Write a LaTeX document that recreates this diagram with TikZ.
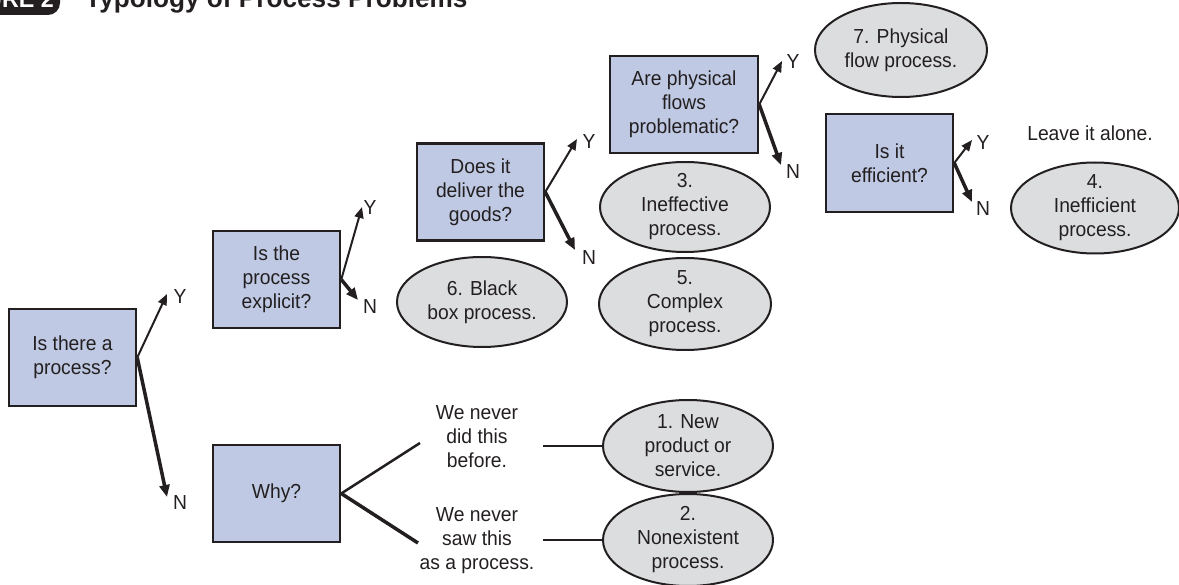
\documentclass[tikz,border=0pt]{standalone}
\usepackage{fontspec}
\setmainfont{Liberation Sans}[FakeStretch=0.95]
\newfontfamily\titlefont{Liberation Sans}[FakeStretch=0.97]
\usetikzlibrary{shapes.geometric,arrows.meta}
\definecolor{ink}{HTML}{231F20}
\definecolor{boxblue}{HTML}{BFC9E3}
\definecolor{ellgray}{HTML}{DCDDDF}
\begin{document}
\begin{tikzpicture}[x=1pt,y=-1pt,
  every node/.style={text=ink, font=\fontsize{20.3pt}{24pt}\selectfont},
  qbox/.style={draw=ink, line width=2.5pt, fill=boxblue, minimum width=127pt,
    minimum height=97pt, align=center, inner sep=0pt},
  ell/.style={ellipse, draw=ink, line width=2pt, fill=ellgray, minimum width=170pt,
    minimum height=90pt, inner sep=0pt},
  elltext/.style={align=center, inner sep=0pt},
  plain/.style={align=center, inner sep=0pt},
  yarrow/.style={draw=ink, line width=2pt, -{Triangle[length=11pt,width=9pt]}},
  narrow/.style={draw=ink, line width=3.5pt, -{Triangle[length=12pt,width=10pt]}},
  yn/.style={inner sep=0pt},
  link/.style={draw=ink, line width=2pt}
]
\useasboundingbox (0,0) rectangle (1179,585);

% title (cut at the top edge)
\fill[ink, rounded corners=12pt] (-40,-40) rectangle (60,15);
\node[anchor=base east, inner sep=0pt, text=white, font=\titlefont\bfseries\fontsize{24pt}{28pt}\selectfont] (figlbl) at (54,8) {FIGURE 2};
\node[anchor=base west, inner sep=0pt, font=\titlefont\bfseries\fontsize{27pt}{32pt}\selectfont] (title) at (85,8) {Typology of Process Problems};

% question boxes
\node[qbox] (b1) at (72.5,357.5) {Is there a\\process?};
\node[qbox] (b2) at (276.5,279.5) {Is the\\process\\explicit?};
\node[qbox] (b3) at (480.5,192) {Does it\\deliver the\\goods?};
\node[qbox, minimum width=148pt] (b4) at (684,104.5) {Are physical\\flows\\problematic?};
\node[qbox, minimum height=98pt] (b5) at (889.5,163) {Is it\\efficient?};
\node[qbox] (bw) at (276.5,493.5) {Why?};

% outcome ellipses
\node[ell, label={[elltext]center:6. Black\\box process.}] (e6) at (482,302) {};
\node[ell, label={[elltext]center:3.\\Ineffective\\process.}] (e3) at (685,207) {};
\node[ell, minimum width=172pt, minimum height=92pt, label={[elltext]center:5.\\Complex\\process.}] (e5) at (685,304) {};
\node[ell, minimum width=172pt, minimum height=94pt, label={[elltext]center:7. Physical\\flow process.}] (e7) at (901,50) {};
\node[ell, minimum width=168pt, minimum height=91pt, label={[elltext]center:4.\\Inefficient\\process.}] (e4) at (1095,208) {};
\node[ell, minimum height=92pt, label={[elltext]center:1. New\\product or\\service.}] (e1) at (688,446) {};
\node[ell, minimum height=92pt, label={[elltext]center:2.\\Nonexistent\\process.}] (e2) at (688,540) {};

% free texts
\node[plain] (t1) at (477,437) {We never\\did this\\before.};
\node[plain] (t2) at (477,541) {We never\\saw this\\as a process.};
\node[plain] (leave) at (1090,133) {Leave it alone.};

% arrow end points
\coordinate (b1y) at (167,294);  \coordinate (b1n) at (167,497);
\coordinate (b2y) at (362,207);  \coordinate (b2n) at (358,300);
\coordinate (b3y) at (577,139);  \coordinate (b3n) at (575,250);
\coordinate (b4y) at (782,61);   \coordinate (b4n) at (781,165);
\coordinate (b5y) at (972,140);  \coordinate (b5n) at (972,202);
\coordinate (wu) at (420,443);   \coordinate (wd) at (418,543);
\coordinate (l1) at (543,446);   \coordinate (l2) at (543,540);

% arrows
\draw[yarrow] (b1.east) -- (b1y);
\draw[narrow] (b1.east) -- (b1n);
\draw[yarrow] (b2.east) -- (b2y);
\draw[narrow] (b2.east) -- (b2n);
\draw[yarrow] (b3.east) -- (b3y);
\draw[narrow] (b3.east) -- (b3n);
\draw[yarrow] (b4.east) -- (b4y);
\draw[narrow] (b4.east) -- (b4n);
\draw[yarrow] (b5.east) -- (b5y);
\draw[narrow] (b5.east) -- (b5n);

% Why? branches and links
\draw[draw=ink, line width=2.5pt] (bw.east) -- (wu);
\draw[draw=ink, line width=3.5pt] (bw.east) -- (wd);
\draw[link] (l1) -- (e1.west);
\draw[link] (l2) -- (e2.west);

% Y / N labels
\node[yn] (y1) at (180,297) {Y};  \node[yn] (n1) at (180,503) {N};
\node[yn] (y2) at (370,208) {Y};  \node[yn] (n2) at (370,307) {N};
\node[yn] (y3) at (589,142) {Y};  \node[yn] (n3) at (589,258) {N};
\node[yn] (y4) at (793,62) {Y};   \node[yn] (n4) at (793,172) {N};
\node[yn] (y5) at (983,143) {Y};  \node[yn] (n5) at (983,209) {N};
\end{tikzpicture}
\end{document}
